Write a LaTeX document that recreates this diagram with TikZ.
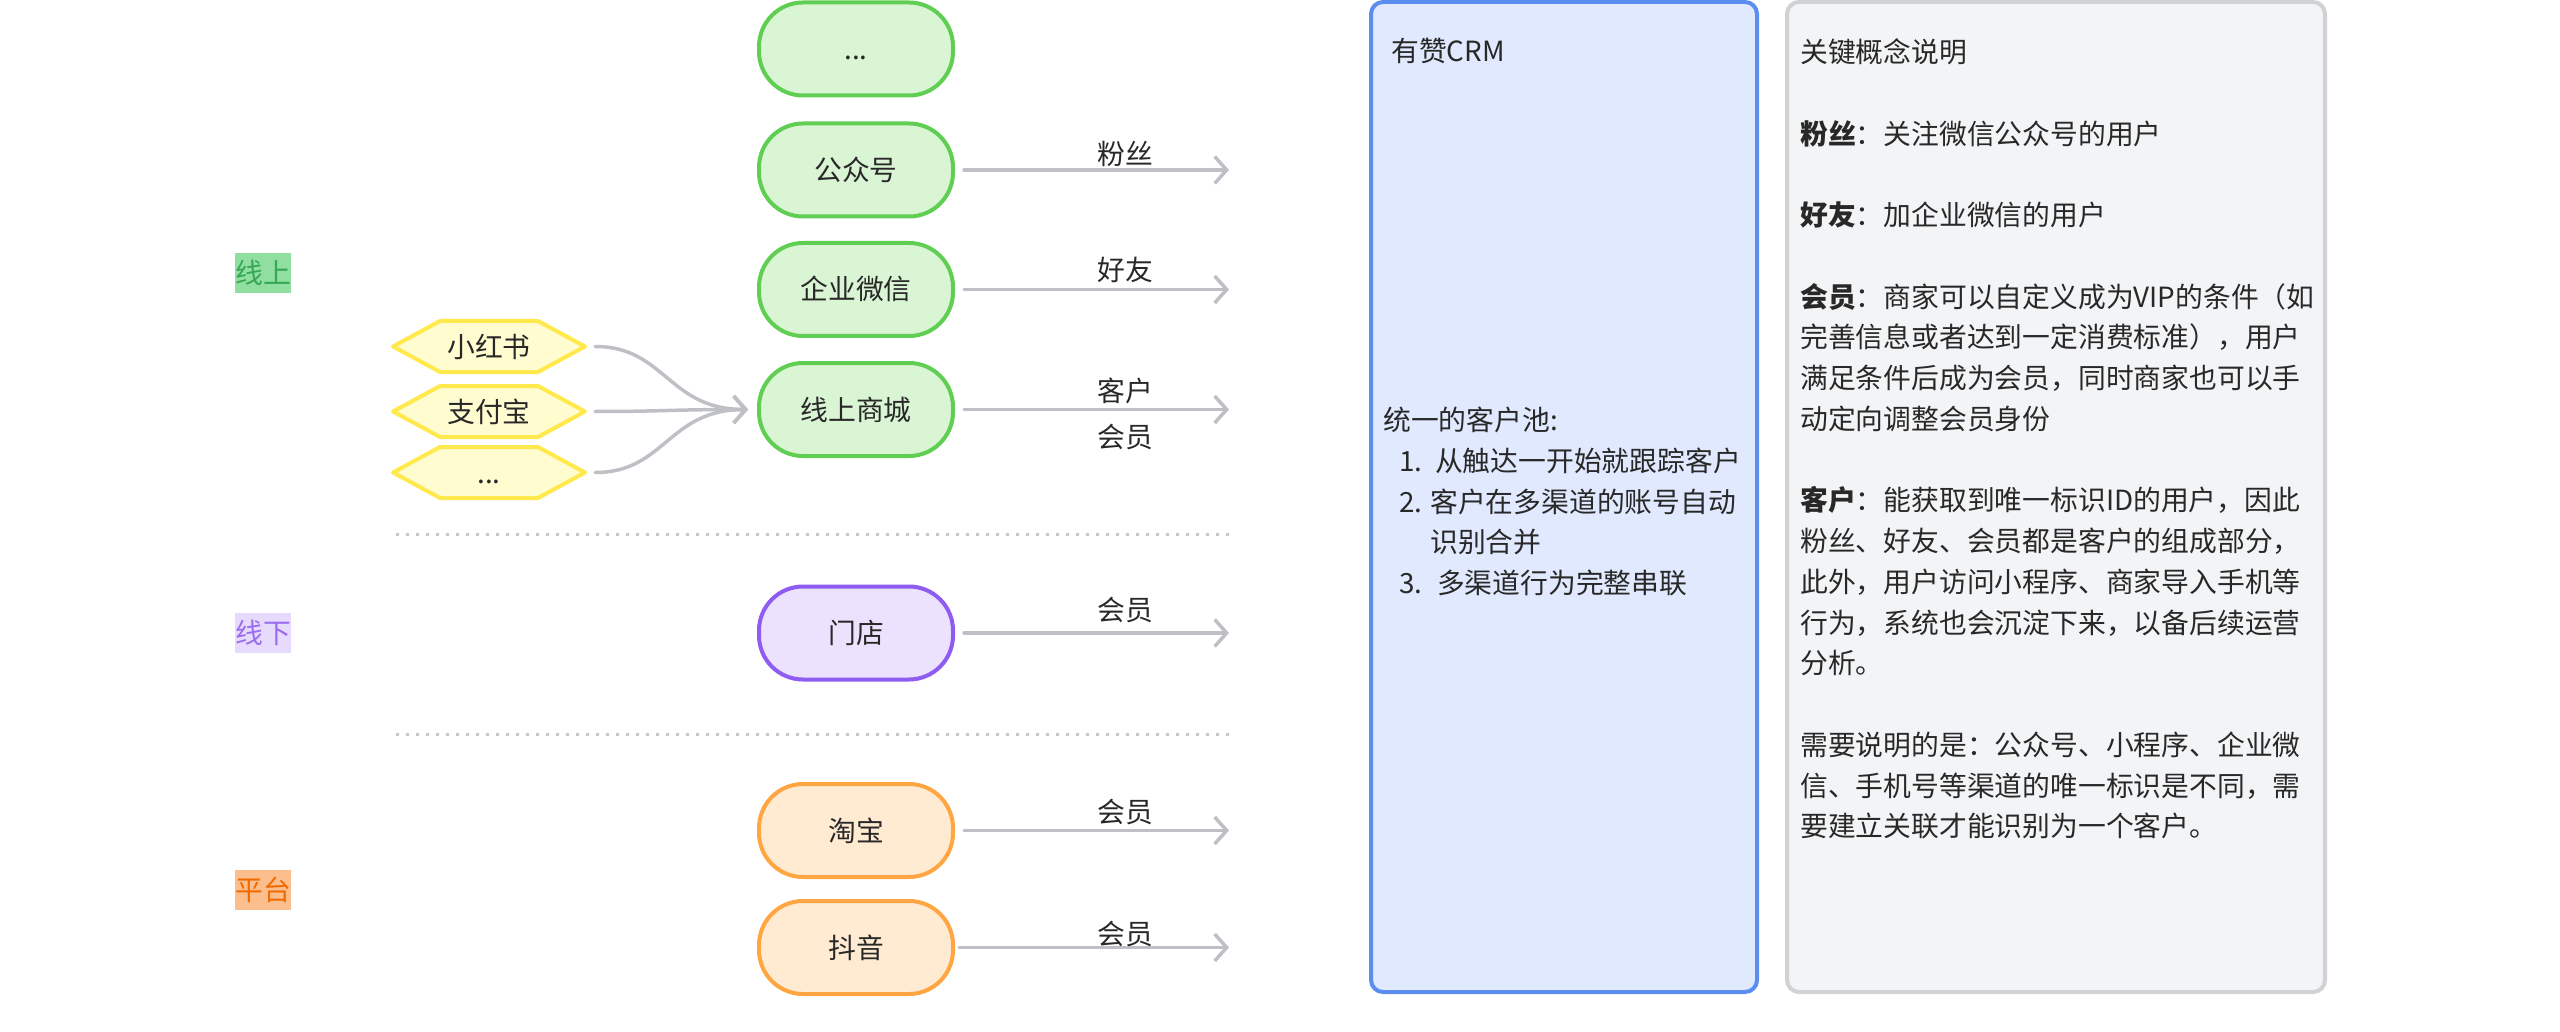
\documentclass[tikz,border=0pt]{standalone}
\usepackage{fontspec}
\setmainfont{Noto Sans CJK SC}
\usetikzlibrary{arrows.meta}
\definecolor{txt}{RGB}{40,40,40}
\definecolor{grn}{RGB}{96,206,82}
\definecolor{grnf}{RGB}{218,245,212}
\definecolor{ylw}{RGB}{255,233,77}
\definecolor{ylwf}{RGB}{255,252,208}
\definecolor{prp}{RGB}{142,92,240}
\definecolor{prpf}{RGB}{236,226,253}
\definecolor{org}{RGB}{255,166,66}
\definecolor{orgf}{RGB}{255,234,210}
\definecolor{arrg}{RGB}{190,192,198}
\definecolor{sepg}{RGB}{200,200,200}
\definecolor{crmd}{RGB}{91,141,239}
\definecolor{crmf}{RGB}{224,233,253}
\definecolor{keyd}{RGB}{208,210,214}
\definecolor{keyf}{RGB}{243,244,246}
\definecolor{tagAf}{RGB}{144,222,160}
\definecolor{tagAt}{RGB}{52,168,83}
\definecolor{tagBf}{RGB}{230,218,253}
\definecolor{tagBt}{RGB}{155,108,240}
\definecolor{tagCf}{RGB}{252,190,140}
\definecolor{tagCt}{RGB}{240,106,0}
\tikzset{
  pill/.style={draw, line width=4pt, rounded corners=44pt, minimum width=194pt,
    minimum height=93pt, inner sep=0pt, text height=24pt, text depth=3pt, text=txt},
  pillG/.style={pill, draw=grn, fill=grnf},
  pillP/.style={pill, draw=prp, fill=prpf},
  pillO/.style={pill, draw=org, fill=orgf},
  hexline/.style={draw=ylw, fill=ylwf, line width=4pt, line join=round},
  hextext/.style={inner sep=0pt, minimum width=192pt, minimum height=51pt,
    text height=24pt, text depth=3pt, text=txt},
  flow/.style={draw=arrg, line width=3.5pt, line cap=round,
    -{Straight Barb[length=12pt,width=27pt]}},
  elabel/.style={inner sep=0pt, text height=24pt, text depth=3pt, text=txt},
  tag/.style={inner sep=0pt, minimum width=56pt, minimum height=40pt,
    text height=24pt, text depth=3pt},
  sepline/.style={draw=sepg, line width=3pt, dash pattern=on 3pt off 7pt},
  panel/.style={line width=4pt, rounded corners=12pt, inner sep=0pt},
  ptext/.style={anchor=north west, align=left, inner sep=0pt, text=txt}
}
\newcommand\hexnode[3]{%
  \draw[hexline, shift={(#2)}] (-96,0) -- (-49,-25.5) -- (49,-25.5) -- (96,0)
    -- (49,25.5) -- (-49,25.5) -- cycle;
  \node[hextext] (#1) at (#2) {#3};}
\begin{document}
\begin{tikzpicture}[x=1pt,y=-1pt,font=\fontsize{27.8}{40.75}\selectfont]
\useasboundingbox (0,0) rectangle (2560,1032);

% side tags
\node[tag, fill=tagAf, text=tagAt] (tonline) at (263,273) {线上};
\node[tag, fill=tagBf, text=tagBt] (toffline) at (263,633) {线下};
\node[tag, fill=tagCf, text=tagCt] (tplat) at (263,890) {平台};

% channel nodes
\node[pillG] (more) at (856,49) {...};
\node[pillG] (gzh) at (856,170) {公众号};
\node[pillG] (qywx) at (856,289.5) {企业微信};
\node[pillG] (mall) at (856,409.5) {线上商城};
\node[pillP] (store) at (856,633) {门店};
\node[pillO] (taobao) at (856,830.5) {淘宝};
\node[pillO] (douyin) at (856,947.5) {抖音};

% hexagon sources
\hexnode{xhs}{489,346.5}{小红书}
\hexnode{zfb}{489,411.5}{支付宝}
\hexnode{hmore}{489,472.5}{...}

\coordinate (mallin) at ([xshift=-9pt]mall.west);
\draw[flow] ([xshift=10pt]xhs.east) .. controls +(70,0) and +(-80,0) .. (mallin);
\draw[flow] ([xshift=10pt]zfb.east) .. controls +(70,0) and +(-80,0) .. (mallin);
\draw[flow] ([xshift=10pt]hmore.east) .. controls +(70,0) and +(-80,0) .. (mallin);

% separators
\draw[sepline] (396,534) -- (1233,534);
\draw[sepline] (396,734) -- (1233,734);

% outgoing arrows
\coordinate (e1) at (1229,170);
\coordinate (e2) at (1229,289.5);
\coordinate (e3) at (1229,409.5);
\coordinate (e4) at (1229,633);
\coordinate (e5) at (1229,830.5);
\coordinate (e6) at (1229,947.5);
\draw[flow] ([xshift=9pt]gzh.east) -- (e1);
\draw[flow] ([xshift=9pt]qywx.east) -- (e2);
\draw[flow] ([xshift=9pt]mall.east) -- (e3);
\draw[flow] ([xshift=9pt]store.east) -- (e4);
\draw[flow] ([xshift=9pt]taobao.east) -- (e5);
\draw[flow] ([xshift=4pt]douyin.east) -- (e6);

\node[elabel] (l1) at (1125,154) {粉丝};
\node[elabel] (l2) at (1125,270) {好友};
\node[elabel] (l3a) at (1125,391) {客户};
\node[elabel] (l3b) at (1125,437) {会员};
\node[elabel] (l4) at (1125,610) {会员};
\node[elabel] (l5) at (1125,812) {会员};
\node[elabel] (l6) at (1125,934) {会员};

% CRM panel
\node[panel, draw=crmd, fill=crmf, minimum width=386pt, minimum height=990pt] (crm) at (1564,497) {};
\node[ptext] (crmtitle) at (1391,34) {\rule{0pt}{27.5pt}有赞CRM};
\node[ptext] (crmbody) at (1383,403) {\rule{0pt}{27.5pt}统一的客户池:\\
\hspace*{16pt}\makebox[36pt][l]{1.}从触达一开始就跟踪客户\\
\hspace*{16pt}\makebox[31pt][l]{2.}客户在多渠道的账号自动\\
\hspace*{47pt}识别合并\\
\hspace*{16pt}\makebox[38pt][l]{3.}多渠道行为完整串联};

% key concept panel
\node[panel, draw=keyd, fill=keyf, minimum width=538pt, minimum height=990pt] (keys) at (2056,497) {};
\node[ptext] (keytext) at (1800,35) {\rule{0pt}{27.5pt}关键概念说明\\[40.75pt]
\textbf{粉丝}：关注微信公众号的用户\\[40.75pt]
\textbf{好友}：加企业微信的用户\\[40.75pt]
\textbf{会员}：商家可以自定义成为VIP的条件（如\\
完善信息或者达到一定消费标准），用户\\
满足条件后成为会员，同时商家也可以手\\
动定向调整会员身份\\[40.75pt]
\textbf{客户}：能获取到唯一标识ID的用户，因此\\
粉丝、好友、会员都是客户的组成部分，\\
此外，用户访问小程序、商家导入手机等\\
行为，系统也会沉淀下来，以备后续运营\\
分析。\\[40.75pt]
需要说明的是：公众号、小程序、企业微\\
信、手机号等渠道的唯一标识是不同，需\\
要建立关联才能识别为一个客户。};
\end{tikzpicture}
\end{document}
